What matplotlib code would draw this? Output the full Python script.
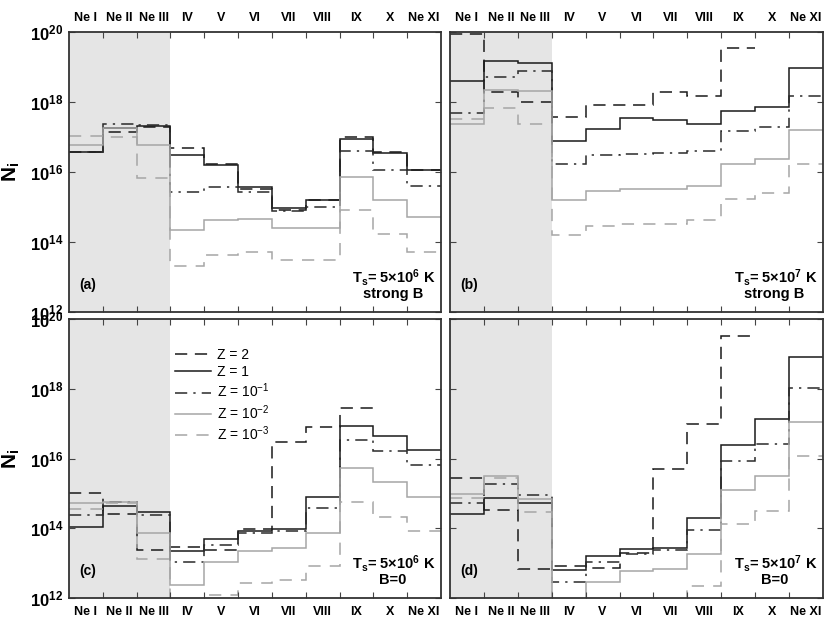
import numpy as np
import matplotlib
matplotlib.use("Agg")
import matplotlib.pyplot as plt

plt.rcParams['font.family'] = ['Liberation Sans', 'DejaVu Sans']
plt.rcParams['mathtext.fontset'] = 'custom'
plt.rcParams['mathtext.rm'] = 'Liberation Sans'
plt.rcParams['mathtext.it'] = 'Liberation Sans:italic'
plt.rcParams['mathtext.bf'] = 'Liberation Sans:bold'

# ion stages along x
ions = ["Ne I", "Ne II", "Ne III", "IV", "V", "VI", "VII", "VIII", "IX", "X", "Ne XI"]
y_exps = [12, 14, 16, 18, 20]

# log10 column densities, one list per metallicity
# (a) Ts = 5e6 K, strong B
a_z2 = [16.56, 17.13, 17.28, 16.69, 16.22, 15.52, 14.92, 15.21, 16.99, 16.56, 16.07]
a_z1 = [16.56, 17.27, 17.32, 16.50, 16.21, 15.58, 14.96, 15.19, 16.95, 16.53, 16.05]
a_z01 = [16.56, 17.36, 17.33, 15.42, 15.58, 15.44, 14.90, 14.99, 16.61, 16.07, 15.59]
a_z001 = [16.76, 17.27, 16.76, 14.35, 14.62, 14.66, 14.39, 14.39, 15.85, 15.20, 14.71]
a_z0001 = [17.04, 16.99, 15.84, 13.32, 13.62, 13.71, 13.48, 13.48, 14.92, 14.22, 13.72]

# (b) Ts = 5e7 K, strong B
b_z2 = [19.95, 18.28, 17.99, 17.57, 17.91, 17.91, 18.30, 18.18, 19.54]
b_z1 = [18.61, 19.16, 19.11, 16.90, 17.23, 17.55, 17.50, 17.38, 17.73, 17.85, 18.97]
b_z01 = [17.70, 18.71, 18.90, 16.24, 16.48, 16.52, 16.54, 16.61, 17.16, 17.28, 18.17]
b_z001 = [17.38, 18.35, 18.32, 15.20, 15.46, 15.52, 15.51, 15.61, 16.22, 16.37, 17.21]
b_z0001 = [17.51, 17.83, 17.38, 14.20, 14.46, 14.51, 14.51, 14.62, 15.23, 15.40, 16.22]

# (c) Ts = 5e6 K, B=0
c_z2 = [15.02, 14.41, 13.39, 13.46, 13.37, 13.97, 16.46, 16.89, 17.45]
c_z1 = [14.04, 14.63, 14.48, 13.34, 13.68, 13.92, 13.98, 14.90, 16.93, 16.65, 16.25]
c_z01 = [14.39, 14.75, 14.39, 13.03, 13.53, 13.85, 13.91, 14.58, 16.53, 16.21, 15.80]
c_z001 = [14.71, 14.75, 13.87, 12.36, 13.03, 13.35, 13.42, 13.87, 15.72, 15.32, 14.89]
c_z0001 = [14.56, 14.73, 13.11, 11.5, 12.10, 12.44, 12.51, 12.93, 14.76, 14.32, 13.91]

# (d) Ts = 5e7 K, B=0
d_z2 = [15.45, 14.51, 12.84, 12.93, 12.87, 13.30, 15.71, 17.00, 19.50]
d_z1 = [14.40, 14.88, 14.73, 12.79, 13.20, 13.40, 13.43, 14.29, 16.40, 17.14, 18.91]
d_z01 = [14.72, 15.28, 14.94, 12.45, 13.03, 13.27, 13.37, 13.96, 15.93, 16.43, 18.03]
d_z001 = [14.98, 15.50, 14.85, 11.5, 12.46, 12.77, 12.83, 13.25, 15.11, 15.50, 17.05]
d_z0001 = [14.87, 15.45, 14.47, 11.5, 11.5, 11.5, 11.5, 12.34, 14.11, 14.49, 16.06]

labels = ["Z = 2", "Z = 1", r"Z = 10$^{-1}$", r"Z = 10$^{-2}$", r"Z = 10$^{-3}$"]
styles = [
    dict(color='#1a1a1a', ls=(0, (8, 5))),
    dict(color='#1a1a1a', ls='-'),
    dict(color='#2a2a2a', ls=(0, (8, 4, 1.5, 4))),
    dict(color='#a6a6a6', ls='-'),
    dict(color='#a6a6a6', ls=(0, (8, 6))),
]

panels = [
    ([a_z2, a_z1, a_z01, a_z001, a_z0001], "(a)", "6", "strong B"),
    ([b_z2, b_z1, b_z01, b_z001, b_z0001], "(b)", "7", "strong B"),
    ([c_z2, c_z1, c_z01, c_z001, c_z0001], "(c)", "6", "B=0"),
    ([d_z2, d_z1, d_z01, d_z001, d_z0001], "(d)", "7", "B=0"),
]

fig = plt.figure(figsize=(8.3, 6.28), dpi=100)
W, H = 830, 628
boxes = [(69, 32, 441, 312), (450, 32, 823, 312),
         (69, 319, 441, 598), (450, 319, 823, 598)]

for i, (series, tag, texp, bfield) in enumerate(panels):
    x0, y0, x1, y1 = boxes[i]
    ax = fig.add_axes([x0 / W, 1 - y1 / H, (x1 - x0) / W, (y1 - y0) / H])
    ax.set_yscale('log')
    ax.axvspan(0, 3, color='#e5e5e5', lw=0, zorder=0)

    for vals, lab, st in zip(series, labels, styles):
        edges = np.arange(len(vals) + 1)
        ax.stairs(10.0 ** np.array(vals), edges, baseline=None,
                  lw=1.1, label=lab, **st)

    ax.set_xlim(0, len(ions))
    ax.set_ylim(1e12, 1e20)

    # ticks on the bin edges, names in the middle of each bin
    ax.set_xticks(np.arange(1, len(ions)))
    ax.set_xticklabels([])
    ax.set_xticks(np.arange(len(ions)) + 0.5, minor=True)
    top = i < 2
    ax.set_xticklabels(ions, minor=True, fontsize=9, fontweight='bold')
    ax.tick_params(axis='x', which='minor', length=0, pad=6,
                   top=top, bottom=not top, labeltop=top, labelbottom=not top)
    ax.tick_params(axis='x', which='major', direction='in', length=4,
                   top=True, bottom=True, width=0.8, color='#444444')

    ax.set_yticks([10.0 ** e for e in y_exps])
    ax.yaxis.set_minor_locator(matplotlib.ticker.NullLocator())
    if i % 2 == 0:
        ax.set_yticklabels([r'$\mathbf{10^{%d}}$' % e for e in y_exps], fontsize=12)
        ax.set_ylabel(r'$\mathbf{N_i}$', fontsize=15, labelpad=6)
    else:
        ax.set_yticklabels([])
    ax.tick_params(axis='y', direction='in', length=4, left=True, right=True,
                   width=0.8, color='#444444', pad=4)

    for sp in ax.spines.values():
        sp.set_linewidth(1.3)
        sp.set_color('#333333')

    ax.text(0.028, 0.095, tag, transform=ax.transAxes, fontsize=10,
            fontweight='bold', va='center', ha='left')
    ax.text(0.985, 0.125,
            r'$\mathbf{T_s}$= 5$\mathbf{\times}$10$^{\mathbf{%s}}$ K' % texp,
            transform=ax.transAxes, fontsize=10.5, fontweight='bold',
            va='center', ha='right')
    ax.text(0.87, 0.065, bfield, transform=ax.transAxes, fontsize=10.5,
            fontweight='bold', va='center', ha='center')

    if i == 2:
        ax.legend(loc='upper left', bbox_to_anchor=(0.27, 0.915), frameon=False,
                  fontsize=10, handlelength=2.6, labelspacing=0.2,
                  borderaxespad=0, handletextpad=0.45)

fig.savefig('out.png', dpi=100)
